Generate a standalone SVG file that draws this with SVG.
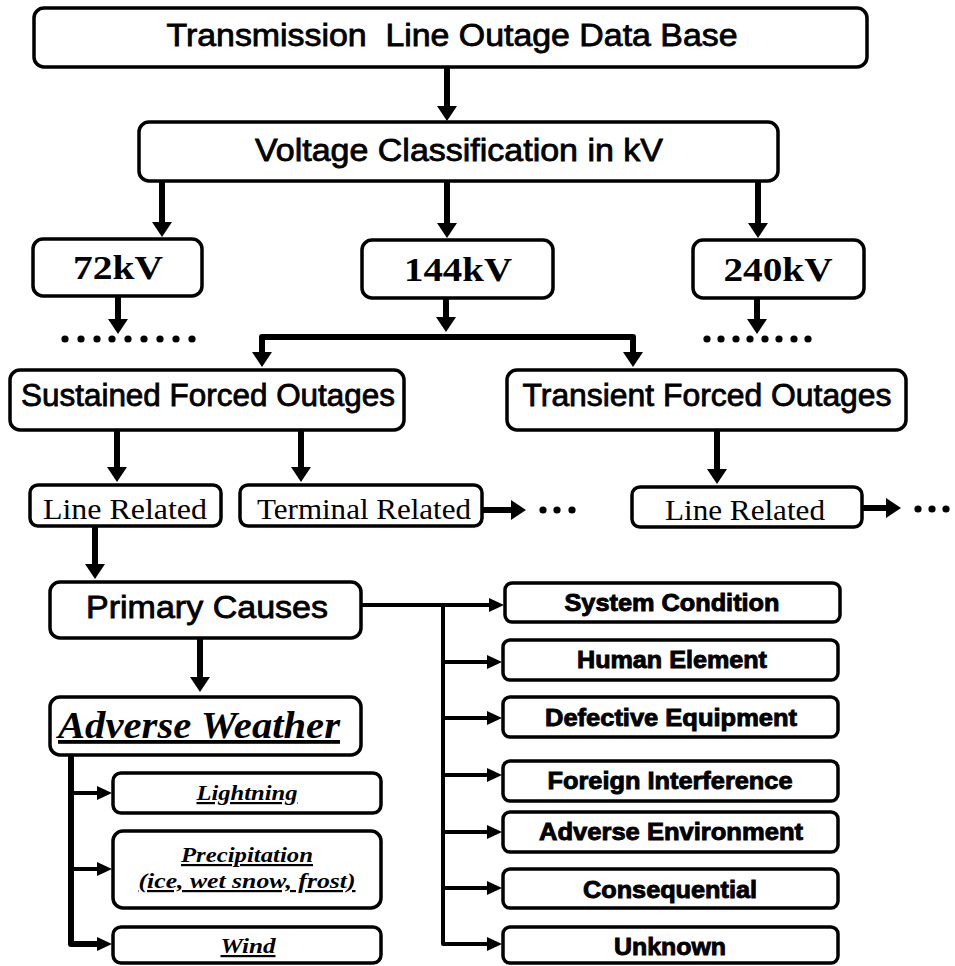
<svg xmlns="http://www.w3.org/2000/svg" width="955" height="966" viewBox="0 0 955 966">
  <style>
    .box { fill: #fff; stroke: #000; stroke-width: 3.5; }
    .sans { font-family: "Liberation Sans", Arial, sans-serif; font-size: 31px; stroke: #000; stroke-width: 0.8; fill: #000; }
    .kv { font-family: "Liberation Serif", "Times New Roman", serif; font-weight: bold; font-size: 34px; fill: #000; }
    .rel { font-family: "Liberation Serif", "Times New Roman", serif; font-size: 30px; fill: #000; }
    .cause { font-family: "Liberation Sans", Arial, sans-serif; font-weight: bold; font-size: 24px; stroke: #000; stroke-width: 0.9; fill: #000; }
    .wx { font-family: "Liberation Serif", "Times New Roman", serif; font-weight: bold; font-style: italic; fill: #000; text-decoration: underline; }
    .main { fill: none; stroke: #000; stroke-width: 6; stroke-linejoin: round; }
    .thin { fill: none; stroke: #000; stroke-width: 4; stroke-linejoin: round; }
    .dot { fill: #000; }
  </style>
  <defs>
    <marker id="ah" viewBox="0 0 15 20" markerWidth="15" markerHeight="20" refX="1" refY="10" orient="auto" markerUnits="userSpaceOnUse">
      <path d="M0,0 L15,10 L0,20 z" fill="#000"/>
    </marker>
    <marker id="ahs" viewBox="0 0 15 14" markerWidth="15" markerHeight="14" refX="1" refY="7" orient="auto" markerUnits="userSpaceOnUse">
      <path d="M0,0 L15,7 L0,14 z" fill="#000"/>
    </marker>
  </defs>

  <!-- connectors -->
  <g id="connectors">
    <path class="main" d="M447,67 V107" marker-end="url(#ah)"/>
    <path class="main" d="M162,181 V223" marker-end="url(#ah)"/>
    <path class="main" d="M447,181 V224" marker-end="url(#ah)"/>
    <path class="main" d="M758,181 V224" marker-end="url(#ah)"/>
    <path class="main" d="M118,296 V320" marker-end="url(#ah)"/>
    <path class="main" d="M757,298 V320" marker-end="url(#ah)"/>
    <path class="main" d="M446,298 V318" marker-end="url(#ah)"/>
    <path class="main" d="M447,337 H262 V353" marker-end="url(#ah)"/>
    <path class="main" d="M447,337 H633 V353" marker-end="url(#ah)"/>
    <path class="main" d="M117,430 V468" marker-end="url(#ah)"/>
    <path class="main" d="M301,430 V468" marker-end="url(#ah)"/>
    <path class="main" d="M717,430 V470" marker-end="url(#ah)"/>
    <path class="main" d="M482,510 H512" marker-end="url(#ah)"/>
    <path class="main" d="M862,508 H887" marker-end="url(#ah)"/>
    <path class="main" d="M95,526 V565" marker-end="url(#ah)"/>
    <path class="main" d="M200,638 V678" marker-end="url(#ah)"/>

    <!-- primary causes fan-out -->
    <path class="thin" d="M361,605 H490" marker-end="url(#ahs)"/>
    <path class="thin" d="M443,605 V944 H488" marker-end="url(#ahs)"/>
    <path class="thin" d="M443,662 H488" marker-end="url(#ahs)"/>
    <path class="thin" d="M443,718 H488" marker-end="url(#ahs)"/>
    <path class="thin" d="M443,775 H488" marker-end="url(#ahs)"/>
    <path class="thin" d="M443,832 H488" marker-end="url(#ahs)"/>
    <path class="thin" d="M443,888 H488" marker-end="url(#ahs)"/>

    <!-- adverse weather fan-out -->
    <path class="main" d="M71,755 V944 H98" marker-end="url(#ahs)"/>
    <path class="thin" d="M71,793 H98" marker-end="url(#ahs)"/>
    <path class="thin" d="M71,869 H98" marker-end="url(#ahs)"/>

    <!-- continuation dots -->
    <g class="dot">
      <circle cx="65" cy="339" r="3.6"/><circle cx="81" cy="339" r="3.6"/><circle cx="97" cy="339" r="3.6"/>
      <circle cx="112" cy="339" r="3.6"/><circle cx="128" cy="339" r="3.6"/><circle cx="144" cy="339" r="3.6"/>
      <circle cx="160" cy="339" r="3.6"/><circle cx="176" cy="339" r="3.6"/><circle cx="192" cy="339" r="3.6"/>
      <circle cx="707" cy="339" r="3.6"/><circle cx="721" cy="339" r="3.6"/><circle cx="736" cy="339" r="3.6"/>
      <circle cx="750" cy="339" r="3.6"/><circle cx="765" cy="339" r="3.6"/><circle cx="779" cy="339" r="3.6"/>
      <circle cx="794" cy="339" r="3.6"/><circle cx="808" cy="339" r="3.6"/>
      <circle cx="543" cy="510" r="3.6"/><circle cx="557" cy="510" r="3.6"/><circle cx="572" cy="510" r="3.6"/>
      <circle cx="918" cy="509" r="3.6"/><circle cx="932" cy="509" r="3.6"/><circle cx="946" cy="509" r="3.6"/>
    </g>
  </g>

  <g id="database">
    <rect class="box" x="34" y="8" width="833" height="59" rx="10"/>
    <text class="sans" x="452" y="46" text-anchor="middle" textLength="571" lengthAdjust="spacingAndGlyphs" xml:space="preserve">Transmission  Line Outage Data Base</text>
  </g>
  <g id="voltage">
    <rect class="box" x="139" y="122" width="639" height="59" rx="10"/>
    <text class="sans" x="459" y="161" text-anchor="middle" textLength="408" lengthAdjust="spacingAndGlyphs">Voltage Classification in kV</text>
  </g>
  <g id="kv72">
    <rect class="box" x="33" y="239" width="169" height="57" rx="10"/>
    <text class="kv" x="118" y="279" text-anchor="middle" textLength="90" lengthAdjust="spacingAndGlyphs">72kV</text>
  </g>
  <g id="kv144">
    <rect class="box" x="362" y="240" width="191" height="58" rx="10"/>
    <text class="kv" x="458" y="281" text-anchor="middle" textLength="108" lengthAdjust="spacingAndGlyphs">144kV</text>
  </g>
  <g id="kv240">
    <rect class="box" x="693" y="240" width="171" height="58" rx="10"/>
    <text class="kv" x="778" y="281" text-anchor="middle" textLength="109" lengthAdjust="spacingAndGlyphs">240kV</text>
  </g>
  <g id="sustained">
    <rect class="box" x="10" y="370" width="394" height="60" rx="10"/>
    <text class="sans" x="208" y="406" text-anchor="middle" textLength="374" lengthAdjust="spacingAndGlyphs">Sustained Forced Outages</text>
  </g>
  <g id="transient">
    <rect class="box" x="507" y="370" width="399" height="60" rx="10"/>
    <text class="sans" x="707" y="406" text-anchor="middle" textLength="369" lengthAdjust="spacingAndGlyphs">Transient Forced Outages</text>
  </g>
  <g id="line-related-sustained">
    <rect class="box" x="30" y="485" width="191" height="41" rx="8"/>
    <text class="rel" x="125" y="519" text-anchor="middle" textLength="164" lengthAdjust="spacingAndGlyphs">Line Related</text>
  </g>
  <g id="terminal-related">
    <rect class="box" x="240" y="485" width="242" height="41" rx="8"/>
    <text class="rel" x="364" y="519" text-anchor="middle" textLength="214" lengthAdjust="spacingAndGlyphs">Terminal Related</text>
  </g>
  <g id="line-related-transient">
    <rect class="box" x="632" y="487" width="230" height="40" rx="8"/>
    <text class="rel" x="745" y="520" text-anchor="middle" textLength="160" lengthAdjust="spacingAndGlyphs">Line Related</text>
  </g>
  <g id="primary">
    <rect class="box" x="50" y="582" width="311" height="56" rx="10"/>
    <text class="sans" x="207" y="618" text-anchor="middle" textLength="242" lengthAdjust="spacingAndGlyphs">Primary Causes</text>
  </g>

  <g id="system-condition">
    <rect class="box" x="505" y="583" width="335" height="39" rx="7"/>
    <text class="cause" x="672" y="611" text-anchor="middle" textLength="215" lengthAdjust="spacingAndGlyphs">System Condition</text>
  </g>
  <g id="human-element">
    <rect class="box" x="503" y="640" width="335" height="40" rx="7"/>
    <text class="cause" x="672" y="668" text-anchor="middle" textLength="190" lengthAdjust="spacingAndGlyphs">Human Element</text>
  </g>
  <g id="defective-equipment">
    <rect class="box" x="503" y="697" width="335" height="40" rx="7"/>
    <text class="cause" x="671" y="726" text-anchor="middle" textLength="252" lengthAdjust="spacingAndGlyphs">Defective Equipment</text>
  </g>
  <g id="foreign-interference">
    <rect class="box" x="503" y="761" width="335" height="40" rx="7"/>
    <text class="cause" x="670" y="789" text-anchor="middle" textLength="245" lengthAdjust="spacingAndGlyphs">Foreign Interference</text>
  </g>
  <g id="adverse-environment">
    <rect class="box" x="503" y="812" width="335" height="40" rx="7"/>
    <text class="cause" x="671" y="840" text-anchor="middle" textLength="264" lengthAdjust="spacingAndGlyphs">Adverse Environment</text>
  </g>
  <g id="consequential">
    <rect class="box" x="503" y="869" width="335" height="39" rx="7"/>
    <text class="cause" x="670" y="898" text-anchor="middle" textLength="174" lengthAdjust="spacingAndGlyphs">Consequential</text>
  </g>
  <g id="unknown">
    <rect class="box" x="503" y="927" width="335" height="36" rx="7"/>
    <text class="cause" x="670" y="955" text-anchor="middle" textLength="112" lengthAdjust="spacingAndGlyphs">Unknown</text>
  </g>

  <g id="adverse-weather">
    <rect class="box" x="50" y="697" width="311" height="58" rx="10"/>
    <text class="wx" x="199" y="738" font-size="38" text-anchor="middle" textLength="282" lengthAdjust="spacingAndGlyphs">Adverse Weather</text>
  </g>
  <g id="lightning">
    <rect class="box" x="113" y="773" width="268" height="40" rx="8"/>
    <text class="wx" x="247" y="800" font-size="22" text-anchor="middle" textLength="101" lengthAdjust="spacingAndGlyphs">Lightning</text>
  </g>
  <g id="precipitation">
    <rect class="box" x="113" y="831" width="268" height="77" rx="10"/>
    <text class="wx" x="247" y="862" font-size="22" text-anchor="middle" textLength="132" lengthAdjust="spacingAndGlyphs">Precipitation</text>
    <text class="wx" x="247" y="888" font-size="22" text-anchor="middle" textLength="217" lengthAdjust="spacingAndGlyphs">(ice, wet snow, frost)</text>
  </g>
  <g id="wind">
    <rect class="box" x="113" y="927" width="268" height="36" rx="8"/>
    <text class="wx" x="248" y="953" font-size="22" text-anchor="middle" textLength="55" lengthAdjust="spacingAndGlyphs">Wind</text>
  </g>
</svg>
